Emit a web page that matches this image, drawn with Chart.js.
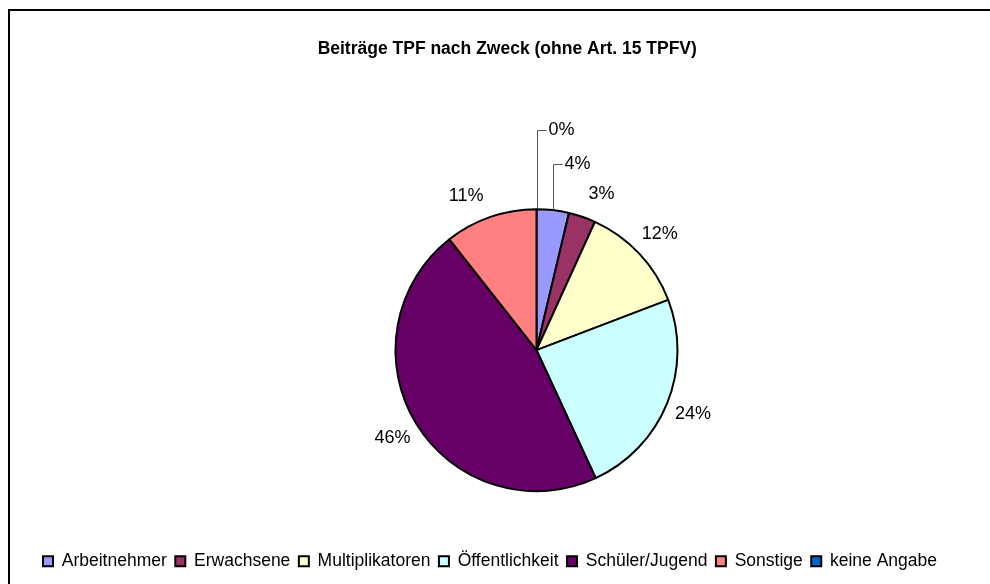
<!DOCTYPE html>
<html>
<head>
<meta charset="utf-8">
<script src="https://cdn.jsdelivr.net/npm/chart.js@4/dist/chart.umd.min.js"></script>
<style>
html,body{margin:0;padding:0;background:#fff;overflow:hidden}
#wrap{position:absolute;left:0;top:0;width:990px;height:584px}
</style>
</head>
<body>
<div id="wrap"><canvas id="c" width="990" height="584"></canvas></div>
<script>
const categories = ['Arbeitnehmer', 'Erwachsene', 'Multiplikatoren', 'Öffentlichkeit', 'Schüler/Jugend', 'Sonstige', 'keine Angabe'];
const shares = [3.7, 3.1, 12.4, 23.9, 46.3, 10.6, 0.0];
const sliceColors = ['#9999FF', '#993366', '#FFFFCC', '#CCFFFF', '#660066', '#FF8080', '#0066CC'];
const chartTitle = 'Beiträge TPF nach Zweck (ohne Art. 15 TPFV)';

const FONT = "Arial, 'Liberation Sans', sans-serif";

const frame = {
  id: 'frame',
  beforeDraw(chart) {
    const ctx = chart.ctx;
    ctx.save();
    ctx.strokeStyle = '#000';
    ctx.lineWidth = 2;
    ctx.strokeRect(9, 10, 1200, 1200);
    ctx.restore();
  }
};

const shiftPie = {
  id: 'shiftPie',
  afterLayout(chart, args, opts) {
    const a = chart.chartArea;
    a.left += opts.dx; a.right += opts.dx;
  }
};

const pieLabels = {
  id: 'pieLabels',
  afterDatasetsDraw(chart, args, opts) {
    const ctx = chart.ctx;
    const meta = chart.getDatasetMeta(0);
    const data = chart.data.datasets[0].data;
    const total = data.reduce((a, b) => a + b, 0);
    ctx.save();
    ctx.font = opts.font;
    ctx.fillStyle = opts.color;
    ctx.textBaseline = 'middle';
    meta.data.forEach((arc, i) => {
      const p = arc.getProps(['x', 'y', 'startAngle', 'endAngle', 'outerRadius'], true);
      const mid = (p.startAngle + p.endAngle) / 2;
      const text = Math.round(data[i] / total * 100) + '%';
      const rise = opts.leaders[i];
      if (rise !== undefined) {
        const ax = Math.round(p.x + Math.cos(mid) * p.outerRadius) + 0.5;
        const ay = p.y + Math.sin(mid) * p.outerRadius;
        const ty = Math.round(ay - rise) + 0.5;
        ctx.strokeStyle = opts.leaderColor;
        ctx.lineWidth = 1;
        ctx.beginPath();
        ctx.moveTo(ax, ay);
        ctx.lineTo(ax, ty);
        ctx.lineTo(ax + opts.leaderRun, ty);
        ctx.stroke();
        ctx.textAlign = 'left';
        ctx.fillText(text, ax + opts.leaderRun + 2, ty);
      } else {
        const ang = mid + (opts.angleNudge[i] || 0) * Math.PI / 180;
        const d = p.outerRadius + opts.gap;
        ctx.textAlign = 'center';
        ctx.fillText(text, p.x + Math.cos(ang) * d, p.y + Math.sin(ang) * d);
      }
    });
    ctx.restore();
  }
};

new Chart(document.getElementById('c'), {
  type: 'pie',
  data: {
    labels: categories,
    datasets: [{
      data: shares,
      backgroundColor: sliceColors,
      borderColor: '#000',
      borderWidth: 2,
      radius: 141
    }]
  },
  plugins: [frame, shiftPie, pieLabels],
  options: {
    responsive: false,
    animation: false,
    devicePixelRatio: 1,
    layout: { padding: { top: 0, bottom: 4, left: 34.5, right: 10 } },
    plugins: {
      shiftPie: { dx: 29.25 },
      pieLabels: {
        font: '18px ' + FONT,
        color: '#000',
        gap: 28,
        angleNudge: { 1: 3.7, 5: -5.5 },
        leaders: { 0: 46, 6: 79 },
        leaderRun: 9,
        leaderColor: '#555'
      },
      tooltip: { enabled: false },
      title: {
        display: true,
        text: chartTitle,
        color: '#000',
        font: { family: FONT, size: 17.5, weight: 'bold' },
        padding: { top: 39, bottom: 96.25 }
      },
      legend: {
        display: true,
        position: 'bottom',
        align: 'start',
        labels: {
          boxWidth: 10,
          boxHeight: 10,
          padding: 8.5,
          color: '#000',
          font: { family: FONT, size: 17.5 }
        }
      }
    }
  }
});
</script>
</body>
</html>
